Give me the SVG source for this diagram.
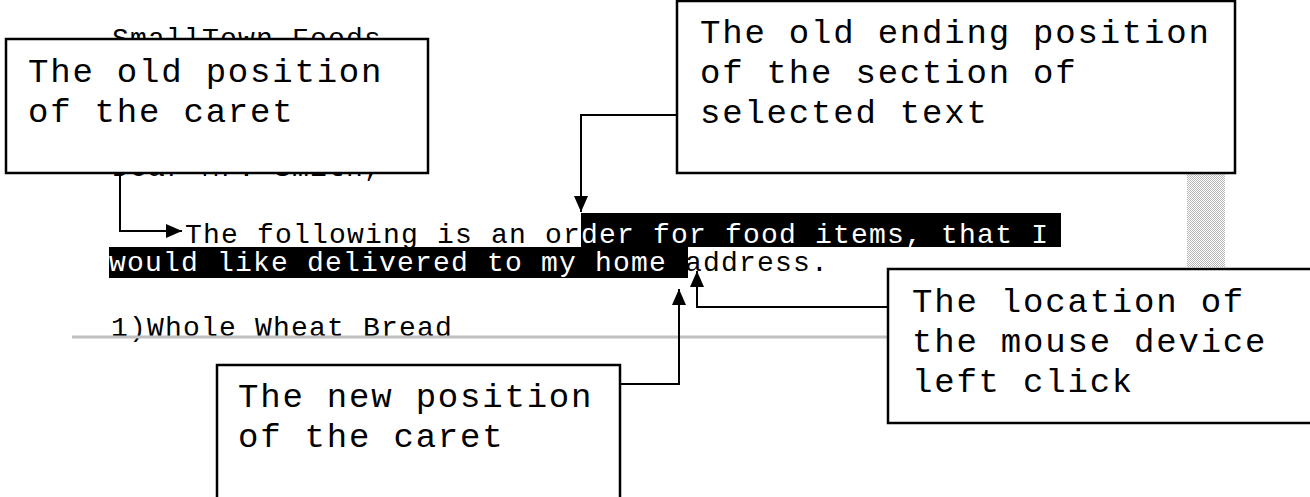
<svg xmlns="http://www.w3.org/2000/svg" width="1310" height="497" viewBox="0 0 1310 497">
<style>
.doc{font-family:"Liberation Mono","Courier New",monospace;font-size:28px;letter-spacing:1.2px;fill:#000}
.inv{fill:#fff}
.lbl{font-family:"Liberation Mono","Courier New",monospace;font-size:34px;letter-spacing:1.8px;fill:#000}
.box{fill:#fff;stroke:#000;stroke-width:2.5}
.con{fill:none;stroke:#000;stroke-width:2}
</style>
<defs>
<marker id="ah" markerUnits="userSpaceOnUse" markerWidth="16" markerHeight="14" refX="16" refY="7" orient="auto">
<path d="M0,0 L16,7 L0,14 Z" fill="#000"/>
</marker>
<pattern id="dots" width="2" height="2" patternUnits="userSpaceOnUse">
<rect width="2" height="2" fill="#fff"/>
<rect width="1" height="1" fill="#b8b8b8"/>
<rect x="1" y="1" width="1" height="1" fill="#b8b8b8"/>
</pattern>
</defs>
<rect width="1310" height="497" fill="#fff"/>
<g id="document">
<rect x="1187" y="173" width="38" height="94" fill="url(#dots)"/>
<text class="doc" x="112" y="47">SmallTown Foods</text>
<text class="doc" x="112" y="176">Dear Mr. Smith,</text>
<rect x="581" y="213" width="480" height="34" fill="#000"/>
<rect x="109" y="247" width="579" height="31" fill="#000"/>
<text class="doc" x="185" y="243">The following is an or<tspan class="inv">der for food items, that I</tspan></text>
<text class="doc" x="109" y="271"><tspan class="inv">would like delivered to my home </tspan>address.</text>
<text class="doc" x="111" y="336">1)Whole Wheat Bread</text>
<line x1="72" y1="337" x2="888" y2="337" stroke="#c0c0c0" stroke-width="3"/>
</g>
<g id="connectors">
<polyline class="con" points="120,173 120,231 182,231" marker-end="url(#ah)"/>
<polyline class="con" points="677,115 581,115 581,212" marker-end="url(#ah)"/>
<polyline class="con" points="888,307 697,307 697,271" marker-end="url(#ah)"/>
<polyline class="con" points="620,384 679,384 679,289" marker-end="url(#ah)"/>
</g>
<g id="old-caret">
<rect class="box" x="6" y="39" width="422" height="134"/>
<text class="lbl" x="28" y="82">The old position</text>
<text class="lbl" x="28" y="122">of the caret</text>
</g>
<g id="old-ending">
<rect class="box" x="677" y="1" width="558" height="172"/>
<text class="lbl" x="700" y="43">The old ending position</text>
<text class="lbl" x="700" y="83">of the section of</text>
<text class="lbl" x="700" y="123">selected text</text>
</g>
<g id="mouse-click">
<rect class="box" x="888" y="269" width="430" height="154"/>
<text class="lbl" x="912" y="312">The location of</text>
<text class="lbl" x="912" y="352">the mouse device</text>
<text class="lbl" x="912" y="392">left click</text>
</g>
<g id="new-caret">
<rect class="box" x="217" y="365" width="403" height="140"/>
<text class="lbl" x="238" y="407">The new position</text>
<text class="lbl" x="238" y="447">of the caret</text>
</g>
</svg>
